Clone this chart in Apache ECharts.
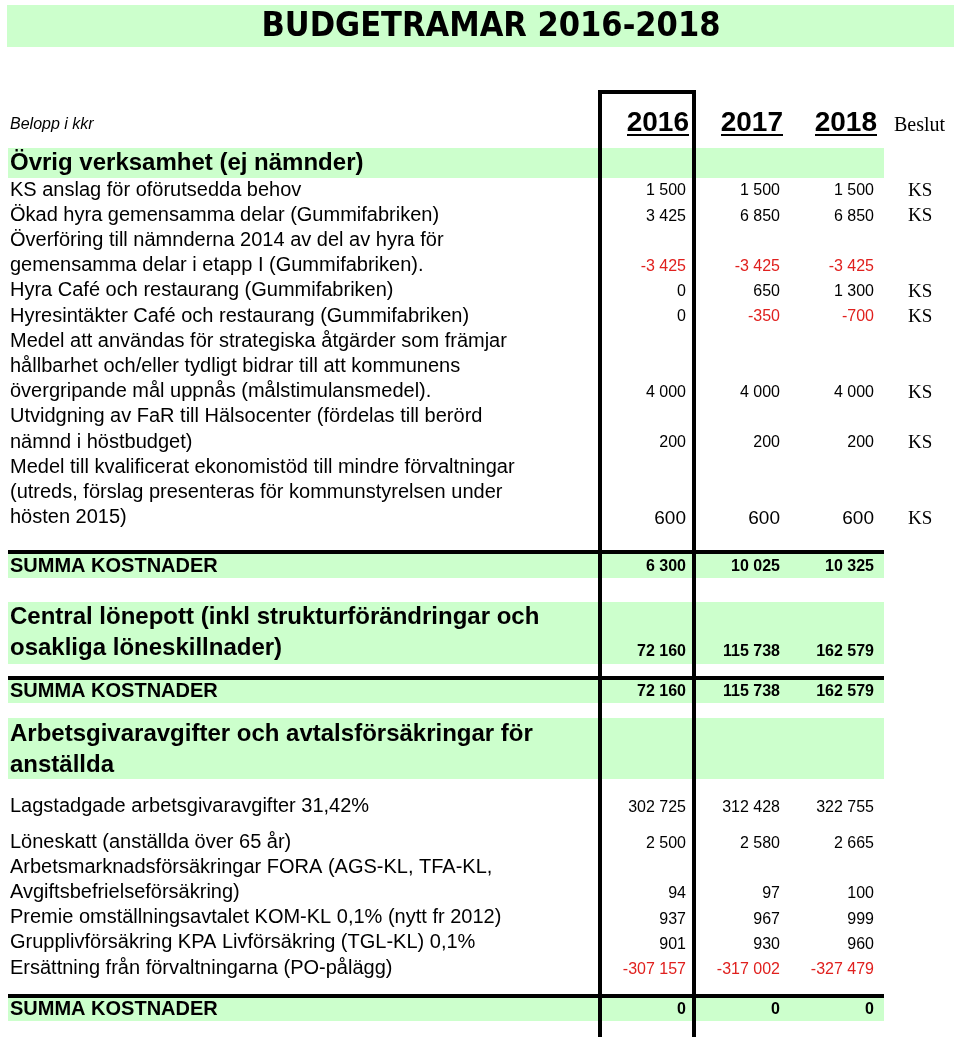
<!DOCTYPE html>
<html><head><meta charset="utf-8">
<script src="https://cdn.jsdelivr.net/npm/echarts@6/dist/echarts.min.js"></script>
<style>html,body{margin:0;padding:0;background:#fff}#chart{width:960px;height:1037px}</style>
</head><body><div id="chart"></div>
<script>
// ---------------- DATA ----------------
const title = 'BUDGETRAMAR 2016-2018';
const unitLabel = 'Belopp i kkr';
const years = ['2016', '2017', '2018'];
const decisionHeader = 'Beslut';
const sumLabel = 'SUMMA KOSTNADER';

const section1Title = ['Övrig verksamhet (ej nämnder)'];
const section1Labels = [
  ['KS anslag för oförutsedda behov'],
  ['Ökad hyra gemensamma delar (Gummifabriken)'],
  ['Överföring till nämnderna 2014 av del av hyra för', 'gemensamma delar i etapp I (Gummifabriken).'],
  ['Hyra Café och restaurang (Gummifabriken)'],
  ['Hyresintäkter Café och restaurang (Gummifabriken)'],
  ['Medel att användas för strategiska åtgärder som främjar', 'hållbarhet och/eller tydligt bidrar till att kommunens', 'övergripande mål uppnås (målstimulansmedel).'],
  ['Utvidgning av FaR till Hälsocenter (fördelas till berörd', 'nämnd i höstbudget)'],
  ['Medel till kvalificerat ekonomistöd till mindre förvaltningar', '(utreds, förslag presenteras för kommunstyrelsen under', 'hösten 2015)']
];
const section1Values = [
  [1500, 1500, 1500],
  [3425, 6850, 6850],
  [-3425, -3425, -3425],
  [0, 650, 1300],
  [0, -350, -700],
  [4000, 4000, 4000],
  [200, 200, 200],
  [600, 600, 600]
];
const section1Decision = ['KS', 'KS', '', 'KS', 'KS', 'KS', 'KS', 'KS'];
const section1Total = [6300, 10025, 10325];

const section2Title = ['Central lönepott (inkl strukturförändringar och', 'osakliga löneskillnader)'];
const section2Values = [72160, 115738, 162579];
const section2Total = [72160, 115738, 162579];

const section3Title = ['Arbetsgivaravgifter och avtalsförsäkringar för', 'anställda'];
const section3Labels = [
  ['Lagstadgade arbetsgivaravgifter 31,42%'],
  ['Löneskatt (anställda över 65 år)'],
  ['Arbetsmarknadsförsäkringar FORA (AGS-KL, TFA-KL,', 'Avgiftsbefrielseförsäkring)'],
  ['Premie omställningsavtalet KOM-KL 0,1% (nytt fr 2012)'],
  ['Grupplivförsäkring KPA Livförsäkring (TGL-KL) 0,1%'],
  ['Ersättning från förvaltningarna (PO-pålägg)']
];
const section3Values = [
  [302725, 312428, 322755],
  [2500, 2580, 2665],
  [94, 97, 100],
  [937, 967, 999],
  [901, 930, 960],
  [-307157, -317002, -327479]
];
const section3Total = [0, 0, 0];

// ---------------- LAYOUT / STYLE ----------------
const SANS = '"Liberation Sans", Arial, Helvetica, sans-serif';
const COND = '"DejaVu Sans Condensed", "Liberation Sans Narrow", "Liberation Sans", sans-serif';
const SERIF = '"Liberation Serif", "Times New Roman", serif';
const GREEN = '#ccffcc';
const RED = '#e0201e';
const colRight = [686, 780, 874];
const decisionX = 908;
const labelX = 10;
const bandX0 = 8, bandX1 = 884;
const frameX = [600, 694];
const frameTop = 92;
const lineStep = 25.2;

function fmt(v) {
  const s = String(Math.abs(v)).replace(/\B(?=(\d{3})+(?!\d))/g, ' ');
  return (v < 0 ? '-' : '') + s;
}

const bands = [], rules = [], texts = [];
function addText(x, y, text, font, align, color) {
  texts.push({ x, y, text, font, align: align || 'left', color: color || '#000' });
}
function addValues(y, vals, font) {
  vals.forEach((v, i) => addText(colRight[i], y, fmt(v), font, 'right', v < 0 ? RED : '#000'));
}

// title
bands.push({ x0: 7, y0: 5, x1: 954, y1: 47 });
addText(491, 27, title, `bold 34px ${COND}`, 'center');
// header
addText(labelX, 125, unitLabel, `italic 16px ${SANS}`);
years.forEach((yr, i) => {
  addText(colRight[i] + 3, 123, yr, `bold 28px ${SANS}`, 'right');
  rules.push({ x0: colRight[i] + 3 - 62, y0: 135, x1: colRight[i] + 3, y1: 135, w: 2 });
});
addText(894, 126, decisionHeader, `20px ${SERIF}`);

// section 1
bands.push({ x0: bandX0, y0: 148, x1: bandX1, y1: 178 });
addText(labelX, 163, section1Title[0], `bold 24px ${SANS}`);
let y = 190;
section1Labels.forEach((lines, k) => {
  lines.forEach((ln, j) => addText(labelX, y + j * lineStep, ln, `20px ${SANS}`));
  const ly = y + (lines.length - 1) * lineStep;
  const big = k === section1Labels.length - 1;
  addValues(ly + 1, section1Values[k], `${big ? 19 : 16}px ${SANS}`);
  if (section1Decision[k]) addText(decisionX, ly + 1, section1Decision[k], `19px ${SERIF}`);
  y += lines.length * lineStep;
});
// sum 1
rules.push({ x0: bandX0, y0: 552, x1: bandX1, y1: 552, w: 4 });
bands.push({ x0: bandX0, y0: 554, x1: bandX1, y1: 578 });
addText(labelX, 566, sumLabel, `bold 20px ${SANS}`);
addValues(567, section1Total, `bold 16px ${SANS}`);

// section 2
bands.push({ x0: bandX0, y0: 602, x1: bandX1, y1: 664 });
section2Title.forEach((ln, j) => addText(labelX, 617 + j * 31, ln, `bold 24px ${SANS}`));
addValues(652, section2Values, `bold 16px ${SANS}`);
rules.push({ x0: bandX0, y0: 678, x1: bandX1, y1: 678, w: 4 });
bands.push({ x0: bandX0, y0: 680, x1: bandX1, y1: 703 });
addText(labelX, 691, sumLabel, `bold 20px ${SANS}`);
addValues(692, section2Total, `bold 16px ${SANS}`);

// section 3
bands.push({ x0: bandX0, y0: 718, x1: bandX1, y1: 779 });
section3Title.forEach((ln, j) => addText(labelX, 734 + j * 31, ln, `bold 24px ${SANS}`));
y = 806;
section3Labels.forEach((lines, k) => {
  lines.forEach((ln, j) => addText(labelX, y + j * lineStep, ln, `20px ${SANS}`));
  const ly = y + (lines.length - 1) * lineStep;
  addValues(ly + 1.5, section3Values[k], `16px ${SANS}`);
  y += (k === 0 ? 36 : lines.length * lineStep);
});
rules.push({ x0: bandX0, y0: 996, x1: bandX1, y1: 996, w: 4 });
bands.push({ x0: bandX0, y0: 998, x1: bandX1, y1: 1021 });
addText(labelX, 1009, sumLabel, `bold 20px ${SANS}`);
addValues(1010, section3Total, `bold 16px ${SANS}`);

// frame around 2016 column
frameX.forEach(fx => rules.push({ x0: fx, y0: frameTop, x1: fx, y1: 1037, w: 4 }));
rules.push({ x0: frameX[0] - 2, y0: frameTop, x1: frameX[1] + 2, y1: frameTop, w: 4 });

// ---------------- CHART ----------------
const chart = echarts.init(document.getElementById('chart'), null, { renderer: 'canvas' });

function rectItem(params, api) {
  const b = bands[params.dataIndex];
  const p0 = api.coord([b.x0, b.y0]), p1 = api.coord([b.x1, b.y1]);
  return { type: 'rect', shape: { x: p0[0], y: p0[1], width: p1[0] - p0[0], height: p1[1] - p0[1] }, style: { fill: GREEN } };
}
function ruleItem(params, api) {
  const r = rules[params.dataIndex];
  const p0 = api.coord([r.x0, r.y0]), p1 = api.coord([r.x1, r.y1]);
  return { type: 'line', shape: { x1: p0[0], y1: p0[1], x2: p1[0], y2: p1[1] }, style: { stroke: '#000', lineWidth: r.w } };
}
function textItem(params, api) {
  const t = texts[params.dataIndex];
  const p = api.coord([t.x, t.y]);
  return {
    type: 'text', x: p[0], y: p[1],
    style: { text: t.text, font: t.font, fill: t.color, align: t.align, verticalAlign: 'middle', textAlign: t.align, textVerticalAlign: 'middle' }
  };
}

chart.setOption({
  animation: false,
  backgroundColor: '#ffffff',
  grid: { left: 0, right: 0, top: 0, bottom: 0 },
  xAxis: { type: 'value', min: 0, max: 960, show: false },
  yAxis: { type: 'value', min: 0, max: 1037, inverse: true, show: false },
  series: [
    { type: 'custom', silent: true, renderItem: rectItem, data: bands.map((b, i) => [i]), z: 1 },
    { type: 'custom', silent: true, renderItem: ruleItem, data: rules.map((r, i) => [i]), z: 2 },
    { type: 'custom', silent: true, renderItem: textItem, data: texts.map((t, i) => [i]), z: 3 }
  ]
});
</script></body></html>
